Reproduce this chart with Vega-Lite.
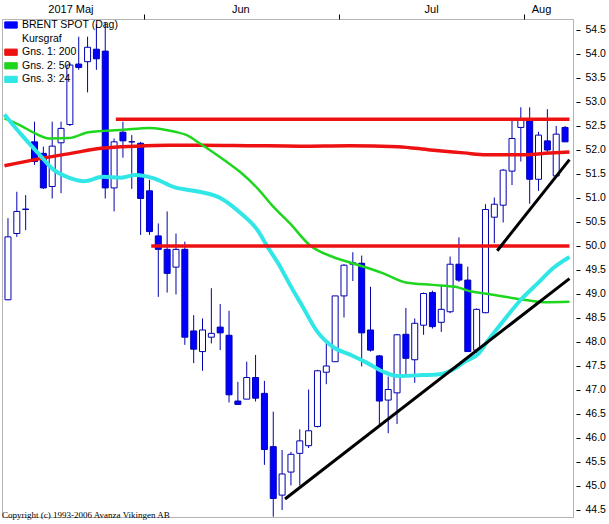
{
  "$schema": "https://vega.github.io/schema/vega-lite/v6.json",
  "description": "BRENT SPOT (Dag) kursgraf med glidande medelvärden",
  "width": 571,
  "height": 498,
  "autosize": {"type": "none"},
  "padding": {"left": 2, "top": 19, "right": 36, "bottom": 7},
  "background": "white",
  "title": {
    "text": "Copyright (c) 1993-2006 Avanza Vikingen AB",
    "orient": "bottom",
    "anchor": "start",
    "font": "Liberation Serif",
    "fontSize": 9,
    "fontWeight": "normal",
    "color": "#000000",
    "offset": -6
  },
  "config": {
    "view": {"stroke": "#b4b4b4", "strokeWidth": 1},
    "font": "Liberation Sans",
    "axis": {"labelOverlap": false, "labelFlush": false, "labelBound": false}
  },
  "datasets": {
    "candles": [
      {"i": 1, "o": 48.88, "h": 50.58, "l": 48.87, "c": 50.19},
      {"i": 2, "o": 50.26, "h": 51.13, "l": 50.19, "c": 50.72},
      {"i": 3, "o": 50.76, "h": 51.06, "l": 50.33, "c": 50.77},
      {"i": 4, "o": 52.17, "h": 52.59, "l": 51.69, "c": 51.76},
      {"i": 5, "o": 51.93, "h": 52.07, "l": 51.19, "c": 51.21},
      {"i": 6, "o": 51.24, "h": 52.59, "l": 50.99, "c": 52.08},
      {"i": 7, "o": 52.15, "h": 52.59, "l": 51.10, "c": 52.45},
      {"i": 8, "o": 52.53, "h": 53.82, "l": 52.50, "c": 53.77},
      {"i": 9, "o": 53.79, "h": 54.36, "l": 53.67, "c": 53.72},
      {"i": 10, "o": 53.84, "h": 54.36, "l": 53.20, "c": 54.14},
      {"i": 11, "o": 54.10, "h": 54.62, "l": 53.67, "c": 53.90},
      {"i": 12, "o": 54.06, "h": 54.65, "l": 50.99, "c": 51.21},
      {"i": 13, "o": 51.21, "h": 52.24, "l": 50.72, "c": 52.17},
      {"i": 14, "o": 52.37, "h": 52.59, "l": 51.84, "c": 52.19},
      {"i": 15, "o": 52.17, "h": 52.31, "l": 51.19, "c": 52.17},
      {"i": 16, "o": 52.14, "h": 52.17, "l": 50.23, "c": 50.99},
      {"i": 17, "o": 51.15, "h": 51.38, "l": 50.23, "c": 50.30},
      {"i": 18, "o": 50.21, "h": 50.47, "l": 48.94, "c": 49.93},
      {"i": 19, "o": 49.93, "h": 50.72, "l": 49.03, "c": 49.43},
      {"i": 20, "o": 49.56, "h": 50.26, "l": 48.99, "c": 49.93},
      {"i": 21, "o": 49.93, "h": 50.09, "l": 47.94, "c": 48.10},
      {"i": 22, "o": 48.23, "h": 48.56, "l": 47.56, "c": 47.85},
      {"i": 23, "o": 47.80, "h": 48.49, "l": 47.40, "c": 48.25},
      {"i": 24, "o": 48.10, "h": 49.12, "l": 47.97, "c": 48.18},
      {"i": 25, "o": 48.31, "h": 48.79, "l": 47.83, "c": 48.19},
      {"i": 26, "o": 48.14, "h": 48.65, "l": 46.74, "c": 46.90},
      {"i": 27, "o": 46.77, "h": 47.17, "l": 46.70, "c": 46.70},
      {"i": 28, "o": 46.81, "h": 47.59, "l": 46.81, "c": 47.26},
      {"i": 29, "o": 47.26, "h": 47.73, "l": 46.76, "c": 46.83},
      {"i": 30, "o": 46.93, "h": 47.19, "l": 45.44, "c": 45.76},
      {"i": 31, "o": 45.82, "h": 46.55, "l": 44.36, "c": 44.74},
      {"i": 32, "o": 44.81, "h": 45.75, "l": 44.50, "c": 45.25},
      {"i": 33, "o": 45.29, "h": 45.71, "l": 45.01, "c": 45.66},
      {"i": 34, "o": 45.68, "h": 46.18, "l": 45.01, "c": 45.94},
      {"i": 35, "o": 45.84, "h": 47.01, "l": 45.79, "c": 46.15},
      {"i": 36, "o": 46.24, "h": 47.42, "l": 46.22, "c": 47.40},
      {"i": 37, "o": 47.37, "h": 48.00, "l": 47.12, "c": 47.50},
      {"i": 38, "o": 47.59, "h": 48.96, "l": 47.59, "c": 48.96},
      {"i": 39, "o": 48.96, "h": 49.62, "l": 48.51, "c": 49.60},
      {"i": 40, "o": 49.62, "h": 49.87, "l": 49.27, "c": 49.65},
      {"i": 41, "o": 49.64, "h": 49.80, "l": 47.49, "c": 48.19},
      {"i": 42, "o": 48.25, "h": 49.15, "l": 47.80, "c": 47.83},
      {"i": 43, "o": 47.71, "h": 47.73, "l": 46.27, "c": 46.77},
      {"i": 44, "o": 46.79, "h": 47.28, "l": 46.10, "c": 47.01},
      {"i": 45, "o": 46.94, "h": 48.17, "l": 46.29, "c": 48.15},
      {"i": 46, "o": 48.16, "h": 48.71, "l": 47.31, "c": 47.66},
      {"i": 47, "o": 47.63, "h": 48.49, "l": 47.15, "c": 48.39},
      {"i": 48, "o": 48.35, "h": 49.03, "l": 48.15, "c": 49.01},
      {"i": 49, "o": 49.03, "h": 49.07, "l": 48.28, "c": 48.32},
      {"i": 50, "o": 48.41, "h": 49.19, "l": 48.21, "c": 48.68},
      {"i": 51, "o": 48.63, "h": 49.78, "l": 48.60, "c": 49.62},
      {"i": 52, "o": 49.62, "h": 50.18, "l": 49.25, "c": 49.29},
      {"i": 53, "o": 49.29, "h": 49.57, "l": 47.80, "c": 47.80},
      {"i": 54, "o": 47.83, "h": 48.70, "l": 47.76, "c": 48.68},
      {"i": 55, "o": 48.61, "h": 50.87, "l": 48.60, "c": 50.76},
      {"i": 56, "o": 50.60, "h": 51.01, "l": 50.06, "c": 50.87},
      {"i": 57, "o": 50.85, "h": 51.60, "l": 50.49, "c": 51.58},
      {"i": 58, "o": 51.56, "h": 52.61, "l": 51.27, "c": 52.24},
      {"i": 59, "o": 52.47, "h": 52.89, "l": 51.76, "c": 52.64},
      {"i": 60, "o": 52.61, "h": 52.89, "l": 50.88, "c": 51.39},
      {"i": 61, "o": 51.39, "h": 52.38, "l": 51.15, "c": 52.31},
      {"i": 62, "o": 52.19, "h": 52.85, "l": 51.93, "c": 52.00},
      {"i": 63, "o": 51.46, "h": 52.50, "l": 51.46, "c": 52.33},
      {"i": 64, "o": 52.47, "h": 52.50, "l": 52.17, "c": 52.17}
    ],
    "ma": [
      {"s": "Gns. 1: 200", "i": 0.6, "p": 51.67},
      {"s": "Gns. 1: 200", "i": 4.33, "p": 51.81},
      {"s": "Gns. 1: 200", "i": 8.11, "p": 51.93},
      {"s": "Gns. 1: 200", "i": 11.78, "p": 52.04},
      {"s": "Gns. 1: 200", "i": 15.44, "p": 52.08},
      {"s": "Gns. 1: 200", "i": 19.22, "p": 52.10},
      {"s": "Gns. 1: 200", "i": 22.89, "p": 52.10},
      {"s": "Gns. 1: 200", "i": 28.44, "p": 52.09},
      {"s": "Gns. 1: 200", "i": 34, "p": 52.08},
      {"s": "Gns. 1: 200", "i": 39.56, "p": 52.09},
      {"s": "Gns. 1: 200", "i": 45.11, "p": 52.07},
      {"s": "Gns. 1: 200", "i": 48.78, "p": 52.0},
      {"s": "Gns. 1: 200", "i": 52.56, "p": 51.94},
      {"s": "Gns. 1: 200", "i": 55.11, "p": 51.90},
      {"s": "Gns. 1: 200", "i": 59.56, "p": 51.90},
      {"s": "Gns. 1: 200", "i": 61.78, "p": 51.93},
      {"s": "Gns. 1: 200", "i": 64.5, "p": 51.96},
      {"s": "Gns. 2: 50", "i": 0.6, "p": 52.66},
      {"s": "Gns. 2: 50", "i": 2.33, "p": 52.52},
      {"s": "Gns. 2: 50", "i": 4, "p": 52.35},
      {"s": "Gns. 2: 50", "i": 5.67, "p": 52.24},
      {"s": "Gns. 2: 50", "i": 7.89, "p": 52.25},
      {"s": "Gns. 2: 50", "i": 10.11, "p": 52.37},
      {"s": "Gns. 2: 50", "i": 14, "p": 52.42},
      {"s": "Gns. 2: 50", "i": 17, "p": 52.46},
      {"s": "Gns. 2: 50", "i": 19.89, "p": 52.38},
      {"s": "Gns. 2: 50", "i": 21.22, "p": 52.31},
      {"s": "Gns. 2: 50", "i": 22.67, "p": 52.14},
      {"s": "Gns. 2: 50", "i": 25.44, "p": 51.79},
      {"s": "Gns. 2: 50", "i": 27.33, "p": 51.53},
      {"s": "Gns. 2: 50", "i": 29.22, "p": 51.20},
      {"s": "Gns. 2: 50", "i": 31, "p": 50.82},
      {"s": "Gns. 2: 50", "i": 32.89, "p": 50.47},
      {"s": "Gns. 2: 50", "i": 35.11, "p": 50.02},
      {"s": "Gns. 2: 50", "i": 37.89, "p": 49.76},
      {"s": "Gns. 2: 50", "i": 39.78, "p": 49.65},
      {"s": "Gns. 2: 50", "i": 43.44, "p": 49.43},
      {"s": "Gns. 2: 50", "i": 46, "p": 49.24},
      {"s": "Gns. 2: 50", "i": 49, "p": 49.19},
      {"s": "Gns. 2: 50", "i": 51.56, "p": 49.15},
      {"s": "Gns. 2: 50", "i": 53.44, "p": 49.05},
      {"s": "Gns. 2: 50", "i": 55.33, "p": 49.0},
      {"s": "Gns. 2: 50", "i": 59, "p": 48.89},
      {"s": "Gns. 2: 50", "i": 61.56, "p": 48.83},
      {"s": "Gns. 2: 50", "i": 64.5, "p": 48.84},
      {"s": "Gns. 3: 24", "i": 0.6, "p": 52.74},
      {"s": "Gns. 3: 24", "i": 2.56, "p": 52.31},
      {"s": "Gns. 3: 24", "i": 4.33, "p": 51.95},
      {"s": "Gns. 3: 24", "i": 6.22, "p": 51.58},
      {"s": "Gns. 3: 24", "i": 8.11, "p": 51.41},
      {"s": "Gns. 3: 24", "i": 9.56, "p": 51.35},
      {"s": "Gns. 3: 24", "i": 11.78, "p": 51.44},
      {"s": "Gns. 3: 24", "i": 13.67, "p": 51.42},
      {"s": "Gns. 3: 24", "i": 15.44, "p": 51.48},
      {"s": "Gns. 3: 24", "i": 17.33, "p": 51.42},
      {"s": "Gns. 3: 24", "i": 19.89, "p": 51.22},
      {"s": "Gns. 3: 24", "i": 22.67, "p": 51.13},
      {"s": "Gns. 3: 24", "i": 25.11, "p": 50.99},
      {"s": "Gns. 3: 24", "i": 27.33, "p": 50.68},
      {"s": "Gns. 3: 24", "i": 29.22, "p": 50.33},
      {"s": "Gns. 3: 24", "i": 30.33, "p": 49.99},
      {"s": "Gns. 3: 24", "i": 31.78, "p": 49.57},
      {"s": "Gns. 3: 24", "i": 32.89, "p": 49.19},
      {"s": "Gns. 3: 24", "i": 34.22, "p": 48.77},
      {"s": "Gns. 3: 24", "i": 36, "p": 48.21},
      {"s": "Gns. 3: 24", "i": 37.89, "p": 47.88},
      {"s": "Gns. 3: 24", "i": 39.78, "p": 47.73},
      {"s": "Gns. 3: 24", "i": 41.56, "p": 47.57},
      {"s": "Gns. 3: 24", "i": 43.44, "p": 47.38},
      {"s": "Gns. 3: 24", "i": 45.11, "p": 47.29},
      {"s": "Gns. 3: 24", "i": 47.89, "p": 47.31},
      {"s": "Gns. 3: 24", "i": 49.78, "p": 47.33},
      {"s": "Gns. 3: 24", "i": 51.56, "p": 47.45},
      {"s": "Gns. 3: 24", "i": 52.67, "p": 47.59},
      {"s": "Gns. 3: 24", "i": 54.22, "p": 47.76},
      {"s": "Gns. 3: 24", "i": 55.33, "p": 48.04},
      {"s": "Gns. 3: 24", "i": 57.11, "p": 48.46},
      {"s": "Gns. 3: 24", "i": 59, "p": 48.88},
      {"s": "Gns. 3: 24", "i": 60.89, "p": 49.22},
      {"s": "Gns. 3: 24", "i": 62.67, "p": 49.54},
      {"s": "Gns. 3: 24", "i": 64.5, "p": 49.77}
    ],
    "levels": [
      {"id": "a", "i": 13.2, "p": 52.64},
      {"id": "a", "i": 64.5, "p": 52.64},
      {"id": "b", "i": 17.2, "p": 50.0},
      {"id": "b", "i": 64.5, "p": 50.0}
    ],
    "trends": [
      {"id": "long", "i": 32.33, "p": 44.73},
      {"id": "long", "i": 64.5, "p": 49.32},
      {"id": "short", "i": 56.33, "p": 49.9},
      {"id": "short", "i": 64.5, "p": 51.8}
    ]
  },
  "layer": [
    {
      "data": {"name": "candles"},
      "mark": {"type": "rule", "stroke": "#0000b0", "strokeWidth": 1, "clip": true},
      "encoding": {
        "x": {
          "field": "i",
          "type": "quantitative",
          "scale": {"domain": [0.889, 64.333], "nice": false, "zero": false},
          "axis": {
            "orient": "top",
            "title": null,
            "values": [8.06, 16.4, 27.28, 38.4, 48.85, 59.35, 61.28],
            "tickCount": 20,
            "labelExpr": "datum.value == 8.06 ? '2017 Maj' : datum.value == 27.28 ? 'Jun' : datum.value == 48.85 ? 'Jul' : datum.value == 61.28 ? 'Aug' : ''",
            "domain": false,
            "grid": false,
            "tickSize": 5,
            "tickColor": "#000000",
            "tickOpacity": {"condition": {"test": "datum.value == 16.4 || datum.value == 38.4 || datum.value == 59.35", "value": 1}, "value": 0},
            "labelPadding": 0,
            "labelFontSize": 11,
            "labelFont": "Liberation Sans",
            "labelColor": "#000000"
          }
        },
        "y": {
          "field": "l",
          "type": "quantitative",
          "scale": {"domain": [44.354, 54.729], "nice": false, "zero": false},
          "axis": {
            "orient": "right",
            "title": null,
            "values": [44.5, 45, 45.5, 46, 46.5, 47, 47.5, 48, 48.5, 49, 49.5, 50, 50.5, 51, 51.5, 52, 52.5, 53, 53.5, 54, 54.5],
            "tickCount": 40,
            "format": ".1f",
            "domain": false,
            "grid": false,
            "tickSize": 4,
            "tickColor": "#000000",
            "offset": 3,
            "labelPadding": 5,
            "labelFontSize": 10.5,
            "labelFont": "Liberation Sans",
            "labelColor": "#000000",
            "labelOverlap": false
          }
        },
        "y2": {"field": "h"}
      }
    },
    {
      "data": {"name": "candles"},
      "mark": {"type": "bar", "size": 6, "stroke": "#0000b0", "strokeWidth": 1, "clip": true},
      "encoding": {
        "x": {"field": "i", "type": "quantitative"},
        "y": {"field": "o", "type": "quantitative"},
        "y2": {"field": "c"},
        "fill": {
          "condition": {"test": "datum.c >= datum.o", "value": "#ffffff"},
          "value": "#0000ff"
        }
      }
    },
    {
      "data": {"name": "ma"},
      "mark": {"type": "line", "interpolate": "monotone", "clip": true},
      "encoding": {
        "x": {"field": "i", "type": "quantitative"},
        "y": {"field": "p", "type": "quantitative"},
        "color": {
          "field": "s",
          "type": "nominal",
          "scale": {
            "domain": ["BRENT SPOT (Dag)", "Kursgraf", "Gns. 1: 200", "Gns. 2: 50", "Gns. 3: 24"],
            "range": ["#0000ff", "#ffffff", "#ee1111", "#1fd61f", "#30e6e6"]
          },
          "legend": {
            "orient": "none",
            "legendX": 2,
            "legendY": -1,
            "title": null,
            "padding": 0,
            "direction": "vertical",
            "symbolType": "M-1,-0.5H1V0.5H-1Z",
            "symbolSize": 156,
            "labelOffset": 4,
            "labelFontSize": 10.5,
            "labelFont": "Liberation Sans",
            "labelColor": "#000000",
            "labelLimit": 200,
            "rowPadding": 0.6,
            "encode": {
              "symbols": {
                "update": {
                  "fill": {"scale": "color", "field": "value"},
                  "stroke": {"value": "#000000"},
                  "strokeWidth": {"value": 1},
                  "opacity": {"signal": "datum.value === 'Kursgraf' ? 0 : 1"}
                }
              }
            }
          }
        },
        "strokeWidth": {
          "field": "s",
          "type": "nominal",
          "scale": {"type": "ordinal", "domain": ["Gns. 1: 200", "Gns. 2: 50", "Gns. 3: 24"], "range": [3.5, 2.5, 4]},
          "legend": null
        }
      }
    },
    {
      "data": {"name": "levels"},
      "mark": {"type": "line", "stroke": "#ee1111", "strokeWidth": 3.5, "clip": true},
      "encoding": {
        "x": {"field": "i", "type": "quantitative"},
        "y": {"field": "p", "type": "quantitative"},
        "detail": {"field": "id"}
      }
    },
    {
      "data": {"name": "trends"},
      "mark": {"type": "line", "stroke": "#000000", "strokeWidth": 3, "clip": true},
      "encoding": {
        "x": {"field": "i", "type": "quantitative"},
        "y": {"field": "p", "type": "quantitative"},
        "detail": {"field": "id"}
      }
    }
  ]
}
